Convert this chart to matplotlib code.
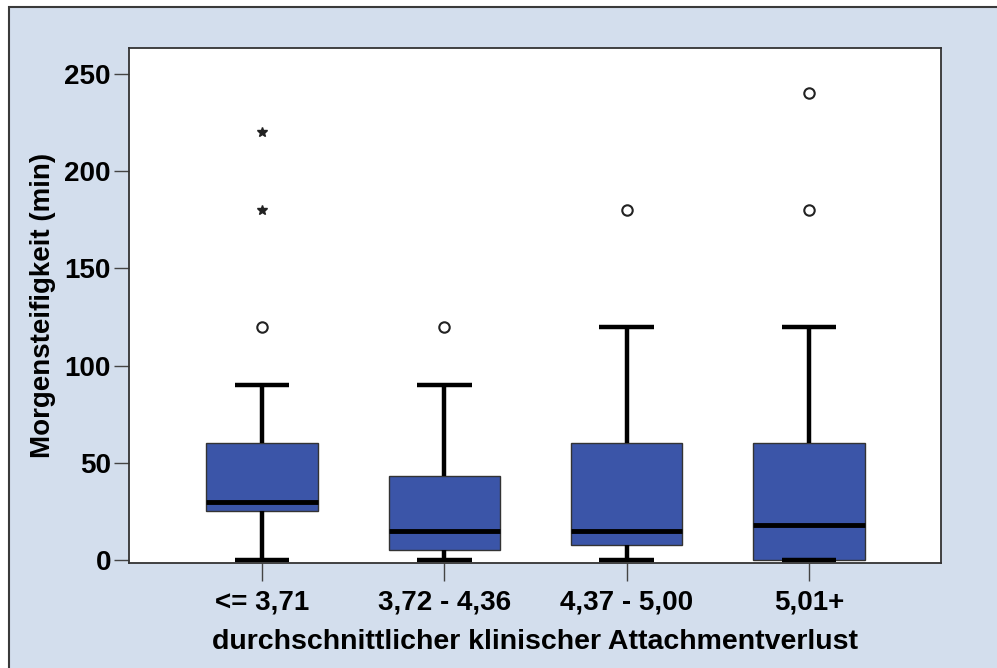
import matplotlib
matplotlib.use("Agg")
from matplotlib import pyplot as plt
from matplotlib.patches import Rectangle

plt.rcParams['font.family'] = ['Liberation Sans', 'DejaVu Sans']
plt.rcParams['font.weight'] = 'bold'

#%% Boxplot statistics per attachment-loss group
groups = ["<= 3,71", "3,72 - 4,36", "4,37 - 5,00", "5,01+"]
whislo = [0, 0, 0, 0]
q1 = [25, 5, 8, 0]
med = [30, 15, 15, 18]
q3 = [60, 43, 60, 60]
whishi = [90, 90, 120, 120]
outliers = [[120], [120], [180], [180, 240]]
extremes = [[180, 220], [], [], []]

bg = "#d3deed"
boxcol = "#3b55a8"

fig = plt.figure(figsize=(9.97, 6.68), dpi=100, facecolor="white")
fig.patches.append(Rectangle((9/997, -0.1), 1.2, 1.1 - 7/668,
                             transform=fig.transFigure, facecolor=bg,
                             edgecolor="#3a3a3a", lw=1.5, zorder=-10))

ax = fig.add_axes([129/997, 105/668, 812/997, 515/668])
ax.set_zorder(1)
ax.set_facecolor("white")

stats = []
for i in range(len(groups)):
    stats.append(dict(whislo=whislo[i], q1=q1[i], med=med[i], q3=q3[i],
                      whishi=whishi[i], fliers=outliers[i], label=groups[i]))

pos = list(range(1, len(groups) + 1))
ax.bxp(stats, positions=pos, widths=0.61, patch_artist=True,
       boxprops=dict(facecolor=boxcol, edgecolor="#333333", lw=1.0),
       medianprops=dict(color="black", lw=3.5, solid_capstyle="butt"),
       whiskerprops=dict(color="black", lw=3.2, solid_capstyle="butt"),
       capprops=dict(color="black", lw=3.2, solid_capstyle="butt"),
       capwidths=0.3,
       flierprops=dict(marker="o", markerfacecolor="none",
                       markeredgecolor="#222222", markersize=7.5, mew=1.5))

for p, ext in zip(pos, extremes):
    if ext:
        ax.plot([p] * len(ext), ext, ls="none", marker="*", color="#222222",
                markersize=7.5)

ax.set_xlim(0.27, 4.724)
ax.set_ylim(-1.5, 263.4)
ax.set_yticks([0, 50, 100, 150, 200, 250])
ax.set_xticks(pos)
ax.set_xticklabels(groups)

ax.tick_params(axis="both", direction="out", width=1.0,
               color="#444444", labelsize=20)
ax.tick_params(axis="y", pad=2, length=11)
ax.tick_params(axis="x", pad=6, length=13)
for lbl in ax.get_xticklabels() + ax.get_yticklabels():
    lbl.set_fontweight("bold")

for s in ax.spines.values():
    s.set_color("#333333")
    s.set_linewidth(1.3)

ax.set_xlabel("durchschnittlicher klinischer Attachmentverlust",
              fontsize=20.5, fontweight="bold", labelpad=10)
ax.set_ylabel("Morgensteifigkeit (min)", fontsize=20, fontweight="bold",
              labelpad=6)

plt.savefig("out.png", dpi=100, facecolor=fig.get_facecolor())
